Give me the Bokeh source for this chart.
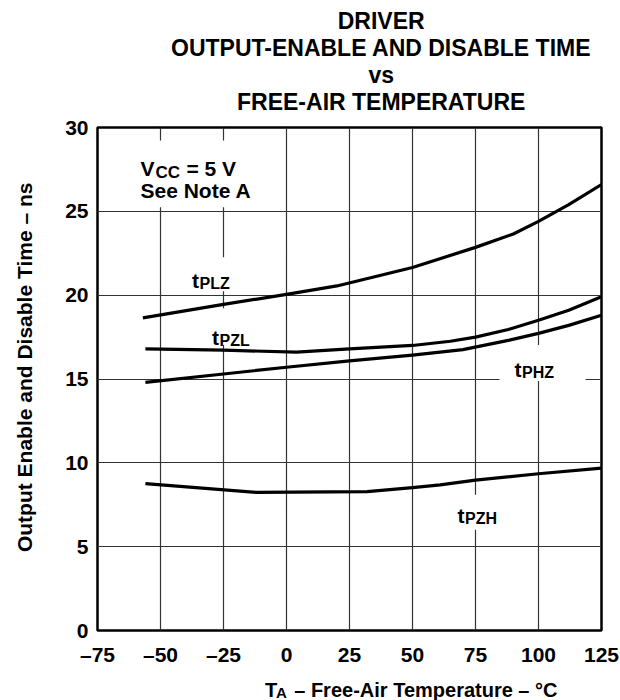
from bokeh.plotting import figure
from bokeh.layouts import column
from bokeh.models import Label, BoxAnnotation, FixedTicker, Range1d
from bokeh.embed import file_html
from bokeh.resources import INLINE

# ---------------- data ----------------
temp_plz = [-57, -25, 0, 20, 50, 75, 90, 100, 112, 125]
t_plz = [18.65, 19.45, 20.05, 20.55, 21.65, 22.85, 23.65, 24.4, 25.4, 26.6]

temp_pzl = [-56, -25, 4, 25, 50, 65, 75, 88, 100, 112, 125]
t_pzl = [16.8, 16.72, 16.6, 16.8, 17.0, 17.25, 17.5, 17.95, 18.5, 19.1, 19.9]

temp_phz = [-56, -25, 0, 25, 50, 70, 88, 100, 112, 125]
t_phz = [14.8, 15.3, 15.7, 16.08, 16.42, 16.75, 17.3, 17.72, 18.2, 18.8]

temp_pzh = [-56, -12, 32, 50, 61, 75, 100, 125]
t_pzh = [8.76, 8.24, 8.28, 8.52, 8.69, 8.97, 9.35, 9.68]

x_ticks = [-75, -50, -25, 0, 25, 50, 75, 100, 125]
x_tick_labels = ["–75", "–50", "–25", "0", "25", "50", "75", "100", "125"]
y_ticks = [0, 5, 10, 15, 20, 25, 30]

title_lines = ["DRIVER", "OUTPUT-ENABLE AND DISABLE TIME", "vs", "FREE-AIR TEMPERATURE"]
y_title = "Output Enable and Disable Time – ns"

X0, X1, Y0, Y1 = -75, 125, 0, 30

# ---------------- layout (picture pixels) ----------------
W, H = 620, 700
FR_L, FR_T, FR_W, FR_H = 97, 127, 504, 504   # plot frame
TITLE_BOT = 117                      # title strip: 0 .. TITLE_BOT
MAIN_BOT = 668                       # main figure: TITLE_BOT .. MAIN_BOT
TITLE_H = TITLE_BOT
MAIN_H = MAIN_BOT - TITLE_BOT
XT_H = H - MAIN_BOT                  # x-title strip: MAIN_BOT .. H

FONT = "Liberation Sans"


def dx(px):
    return X0 + (px - FR_L) * (X1 - X0) / FR_W


def dy(py):
    return Y1 - (py - FR_T) * (Y1 - Y0) / FR_H


def text_strip(height):
    f = figure(width=W, height=height, x_range=Range1d(0, W), y_range=Range1d(height, 0),
               output_backend="svg", toolbar_location=None,
               x_axis_location=None, y_axis_location=None,
               min_border=0, min_border_left=0, min_border_right=0,
               min_border_top=0, min_border_bottom=0)
    f.outline_line_color = None
    f.grid.visible = False
    f.background_fill_color = "white"
    f.border_fill_color = "white"
    return f


def add_label(fig, text, x, y, size="21px", align="left"):
    fig.add_layout(Label(x=x, y=y, text=text, text_font=FONT,
                         text_font_style="bold", text_font_size=size,
                         text_color="black", text_align=align,
                         text_baseline="alphabetic"))


# ---------------- title strip ----------------
pt = text_strip(TITLE_H)
title_center = FR_L + FR_W / 2
for line, base in zip(title_lines, [20.5, 47.5, 74.5, 101]):
    add_label(pt, line, title_center, base, size="23px", align="center")

# ---------------- main plot ----------------
p = figure(width=W, height=MAIN_H, x_range=Range1d(X0, X1), y_range=Range1d(Y0, Y1),
           output_backend="svg", toolbar_location=None,
           min_border_left=FR_L, min_border_top=FR_T - TITLE_BOT,
           min_border_right=W - (FR_L + FR_W),
           min_border_bottom=MAIN_H - (FR_T - TITLE_BOT) - FR_H)

p.background_fill_color = "white"
p.border_fill_color = "white"
p.outline_line_color = "black"
p.outline_line_width = 2.5

p.xaxis.ticker = FixedTicker(ticks=x_ticks)
p.yaxis.ticker = FixedTicker(ticks=y_ticks)
p.xaxis.major_label_overrides = {t: l for t, l in zip(x_ticks, x_tick_labels)}

for ax in (p.xaxis, p.yaxis):
    ax.axis_line_color = None
    ax.major_tick_line_color = None
    ax.minor_tick_line_color = None
    ax.major_tick_out = 0
    ax.major_tick_in = 0
    ax.minor_tick_out = 0
    ax.minor_tick_in = 0
    ax.major_label_text_font = FONT
    ax.major_label_text_font_style = "bold"
    ax.major_label_text_font_size = "21px"
    ax.major_label_text_color = "black"

p.xaxis.major_label_standoff = 12
p.yaxis.major_label_standoff = 9

p.yaxis.axis_label = "\u00a0\u00a0\u00a0\u00a0" + y_title
p.yaxis.axis_label_text_font = FONT
p.yaxis.axis_label_text_font_style = "bold"
p.yaxis.axis_label_text_font_size = "21px"
p.yaxis.axis_label_text_color = "black"
p.yaxis.axis_label_standoff = 26

p.grid.grid_line_color = "#333333"
p.grid.grid_line_width = 1.2

# white boxes behind labels (break the grid lines like the original)
boxes = [(134, 255, 140, 207), (186, 236, 257, 291), (206, 256, 308, 345),
         (499, 585, 345, 381), (452, 503, 495, 530)]
for l, r, t, b in boxes:
    p.add_layout(BoxAnnotation(left=dx(l), right=dx(r), top=dy(t), bottom=dy(b),
                               fill_color="white", fill_alpha=1.0, line_color=None,
                               level="underlay"))

# curves
for xs, ys in ((temp_plz, t_plz), (temp_pzl, t_pzl), (temp_phz, t_phz), (temp_pzh, t_pzh)):
    p.line(xs, ys, line_width=3.2, line_color="black", line_join="round", line_cap="butt")


def lab(text, px, py, size="21px"):
    add_label(p, text, dx(px), dy(py), size=size)


# Vcc note
lab("V", 140, 168)
lab("CC", 155, 172, size="17px")
lab("= 5 V", 186, 168)
lab("See Note A", 140, 190)

# curve labels: (subscript, x, baseline)
curve_labels = [("PLZ", 191.5, 280), ("PZL", 211.5, 337), ("PHZ", 514, 369.5), ("PZH", 457, 516)]
for sub, px, py in curve_labels:
    lab("t", px, py)
    lab(sub, px + 7.5, py + 3, size="16px")

# ---------------- x-axis title strip ----------------
px_t = text_strip(XT_H)
base = 689 - MAIN_BOT
add_label(px_t, "T", 206, base, size="20px")
add_label(px_t, "A", 219.5, base + 3, size="15px")
add_label(px_t, "– Free-Air Temperature – °C", 242, base, size="20px")

layout = column(pt, p, px_t, spacing=0)
open("out.html", "w").write(file_html(layout, INLINE))
